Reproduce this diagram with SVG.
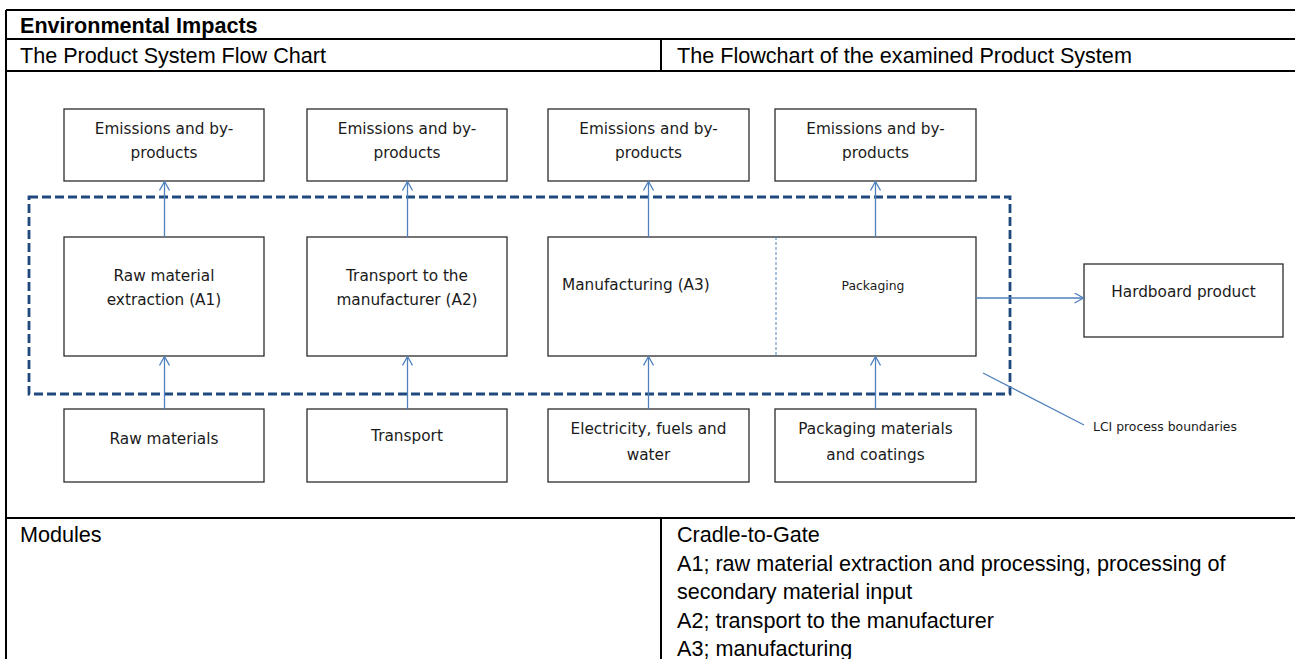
<svg xmlns="http://www.w3.org/2000/svg" width="1295" height="659" viewBox="0 0 1295 659">
<style>
.tbl{stroke:#000;stroke-width:2;fill:none}
.hdr{font-family:'Liberation Sans',Arial,sans-serif;font-size:21.6px;fill:#000}
.box{fill:#fff;stroke:#2b2b2b;stroke-width:1.3}
.lbl{font-family:'DejaVu Sans',Verdana,sans-serif;font-size:15.3px;fill:#1a1a1a;text-anchor:middle}
.sm{font-size:12.4px}
.con{stroke:#4F81BD;stroke-width:1.3;fill:none}
.bnd{stroke:#1F497D;stroke-width:2.8;fill:none;stroke-dasharray:9 4}
</style>
<defs>
<marker id="arr" markerUnits="userSpaceOnUse" markerWidth="11" markerHeight="11" viewBox="0 0 11 11" refX="10" refY="5.5" orient="auto">
<path d="M1,0.5 L10,5.5 L1,10.5" fill="none" stroke="#4F81BD" stroke-width="1.3"/>
</marker>
</defs>
<rect width="1295" height="659" fill="#fff"/>
<g id="table">
<path class="tbl" d="M6,10 H1295 M6,39 H1295 M6,71 H1295 M6,518 H1295 M6,10 V659 M661,39 V71 M661,518 V659"/>
<text class="hdr" x="20" y="33" font-weight="bold" font-size="20.5">Environmental Impacts</text>
<text class="hdr" x="20" y="63">The Product System Flow Chart</text>
<text class="hdr" x="677" y="63">The Flowchart of the examined Product System</text>
<text class="hdr" x="20" y="542">Modules</text>
<text class="hdr" x="677" y="542">Cradle-to-Gate</text>
<text class="hdr" x="677" y="570.5">A1; raw material extraction and processing, processing of</text>
<text class="hdr" x="677" y="599">secondary material input</text>
<text class="hdr" x="677" y="627.5">A2; transport to the manufacturer</text>
<text class="hdr" x="677" y="656">A3; manufacturing</text>
</g>
<g id="boundary">
<rect class="bnd" x="29" y="197" width="981" height="197"/>
</g>
<g id="emis1"><rect class="box" x="64" y="109" width="200" height="72"/><text class="lbl" x="164" y="134">Emissions and by-</text><text class="lbl" x="164" y="158">products</text></g>
<g id="emis2"><rect class="box" x="307" y="109" width="200" height="72"/><text class="lbl" x="407" y="134">Emissions and by-</text><text class="lbl" x="407" y="158">products</text></g>
<g id="emis3"><rect class="box" x="548" y="109" width="201" height="72"/><text class="lbl" x="648.5" y="134">Emissions and by-</text><text class="lbl" x="648.5" y="158">products</text></g>
<g id="emis4"><rect class="box" x="775" y="109" width="201" height="72"/><text class="lbl" x="875.5" y="134">Emissions and by-</text><text class="lbl" x="875.5" y="158">products</text></g>
<g id="a1"><rect class="box" x="64" y="237" width="200" height="119"/><text class="lbl" x="164" y="281">Raw material</text><text class="lbl" x="164" y="305">extraction (A1)</text></g>
<g id="a2"><rect class="box" x="307" y="237" width="200" height="119"/><text class="lbl" x="407" y="281">Transport to the</text><text class="lbl" x="407" y="305">manufacturer (A2)</text></g>
<g id="a3"><rect class="box" x="548" y="237" width="428" height="119"/><line x1="776" y1="237" x2="776" y2="356" stroke="#4F81BD" stroke-width="1" stroke-dasharray="3 2"/><text class="lbl" x="562" y="290" style="text-anchor:start">Manufacturing (A3)</text><text class="lbl sm" x="873" y="290">Packaging</text></g>
<g id="hardboard"><rect class="box" x="1084" y="264" width="199" height="73"/><text class="lbl" x="1183.5" y="297">Hardboard product</text></g>
<g id="raw"><rect class="box" x="64" y="409" width="200" height="73"/><text class="lbl" x="164" y="444">Raw materials</text></g>
<g id="transport"><rect class="box" x="307" y="409" width="200" height="73"/><text class="lbl" x="407" y="441">Transport</text></g>
<g id="energy"><rect class="box" x="548" y="409" width="201" height="73"/><text class="lbl" x="648.5" y="434">Electricity, fuels and</text><text class="lbl" x="648.5" y="460">water</text></g>
<g id="pack"><rect class="box" x="775" y="409" width="201" height="73"/><text class="lbl" x="875.5" y="434">Packaging materials</text><text class="lbl" x="875.5" y="460">and coatings</text></g>
<g id="lci-label"><text class="lbl sm" x="1093" y="431" style="text-anchor:start">LCI process boundaries</text></g>
<g id="connectors">
<path class="con" marker-end="url(#arr)" d="M164.5,237 V181.5"/>
<path class="con" marker-end="url(#arr)" d="M407.5,237 V181.5"/>
<path class="con" marker-end="url(#arr)" d="M648.5,237 V181.5"/>
<path class="con" marker-end="url(#arr)" d="M875.5,237 V181.5"/>
<path class="con" marker-end="url(#arr)" d="M164.5,409 V356.5"/>
<path class="con" marker-end="url(#arr)" d="M407.5,409 V356.5"/>
<path class="con" marker-end="url(#arr)" d="M648.5,409 V356.5"/>
<path class="con" marker-end="url(#arr)" d="M875.5,409 V356.5"/>
<path class="con" marker-end="url(#arr)" d="M976,298 H1083.5"/>
<path class="con" stroke-width="1" d="M983,373 L1084,425"/>
</g>
</svg>
